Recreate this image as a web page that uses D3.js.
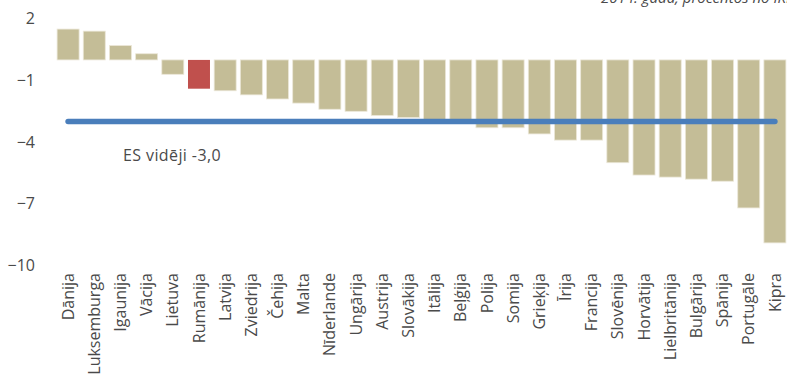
<!DOCTYPE html>
<html><head><meta charset="utf-8">
<script src="https://cdn.jsdelivr.net/npm/d3@7"></script>
<style>
body{margin:0;background:#fff;}
svg{display:block;font-family:"Open Sans","Segoe UI",sans-serif;}
</style></head>
<body><svg id="c" width="787" height="378"></svg>
<script>
const categories = ["Dānija","Luksemburga","Igaunija","Vācija","Lietuva","Rumānija","Latvija","Zviedrija","Čehija","Malta","Nīderlande","Ungārija","Austrija","Slovākija","Itālija","Beļģija","Polija","Somija","Grieķija","Īrija","Francija","Slovēnija","Horvātija","Lielbritānija","Bulgārija","Spānija","Portugāle","Kipra"];
const values = [1.5,1.4,0.7,0.3,-0.7,-1.4,-1.5,-1.7,-1.9,-2.1,-2.4,-2.5,-2.7,-2.8,-3.0,-3.0,-3.3,-3.3,-3.6,-3.9,-3.9,-5.0,-5.6,-5.7,-5.8,-5.9,-7.2,-8.9];
const highlight = "Rumānija";
const euAverage = -3.0;
const euLabel = "ES vidēji -3,0";
const yTicks = [2,-1,-4,-7,-10];
const subtitle = "2014. gadā, procentos no IKP";

const svg = d3.select("#c");
const x = d3.scaleBand().domain(categories).range([55,788]).paddingInner(0.16).paddingOuter(0.08);
const y = d3.scaleLinear().domain([-10,2]).range([265.5,18.8]);
const textColor = "#4a4a4a";
const ff = "'Open Sans',sans-serif";

// bars
svg.append("g").selectAll("rect").data(categories).join("rect")
  .attr("x", d => x(d))
  .attr("width", x.bandwidth())
  .attr("y", (d,i) => y(Math.max(0, values[i])))
  .attr("height", (d,i) => Math.abs(y(values[i]) - y(0)))
  .attr("fill", d => d === highlight ? "#c0504d" : "#c4bd97")
  .attr("stroke", d => d === highlight ? "none" : "#ebe7d8")
  .attr("stroke-width", 0.8);

// y axis (labels only)
const yAxis = d3.axisLeft(y).tickValues(yTicks).tickSize(0).tickPadding(0).tickFormat(d3.format("d"));
const gy = svg.append("g").attr("transform","translate(35,0)").call(yAxis);
gy.select(".domain").remove();
gy.selectAll("text").attr("font-size",16).attr("fill",textColor).attr("font-family",ff).attr("font-weight",400);

// x axis labels
const xAxis = d3.axisBottom(x).tickSize(0).tickPadding(0);
const gx = svg.append("g").attr("transform","translate(0,273)").call(xAxis);
gx.select(".domain").remove();
gx.selectAll("text")
  .attr("transform","rotate(-90)")
  .attr("text-anchor","end")
  .attr("x",0).attr("y",0).attr("dy","0.35em")
  .attr("font-size",16).attr("fill",textColor)
  .attr("font-family",ff).attr("font-weight",400);

// EU average line
const first = categories[0], last = categories[categories.length-1];
svg.append("line")
  .attr("x1", x(first) + x.bandwidth()/2)
  .attr("x2", x(last) + x.bandwidth()/2)
  .attr("y1", y(euAverage)).attr("y2", y(euAverage))
  .attr("stroke","#4a7ebb").attr("stroke-width",5.5).attr("stroke-linecap","round");

svg.append("text").attr("x",123).attr("y",161).attr("font-size",16).attr("letter-spacing",0.4)
  .attr("fill",textColor).attr("font-family",ff).text(euLabel);

svg.append("text").attr("x",601).attr("y",3).attr("font-size",15)
  .attr("font-style","italic").attr("fill",textColor).attr("font-family",ff).text(subtitle);
</script></body></html>
